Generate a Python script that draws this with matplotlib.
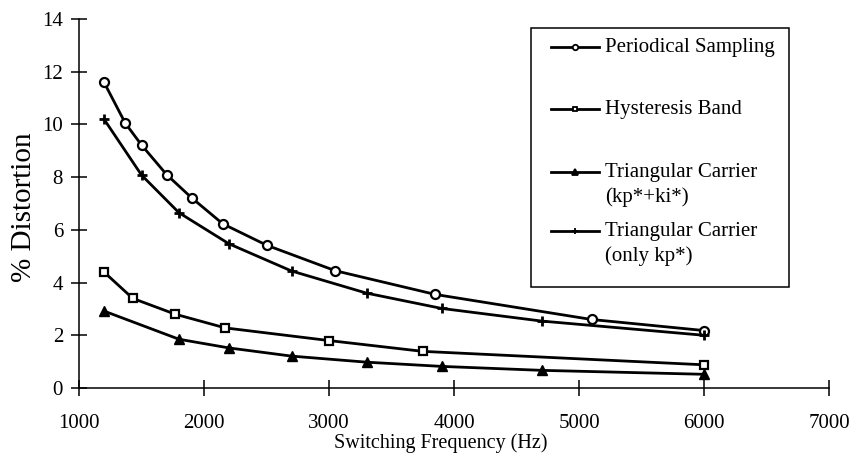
import matplotlib
matplotlib.use("Agg")
import matplotlib.pyplot as plt
from matplotlib.lines import Line2D
from matplotlib.patches import Rectangle

plt.rcParams['font.family'] = ['Liberation Serif', 'DejaVu Serif']

# values
freq_ps = [1200, 1370, 1500, 1700, 1900, 2150, 2500, 3050, 3850, 5100, 6000]
dist_ps = [11.6, 10.05, 9.22, 8.1, 7.22, 6.23, 5.42, 4.45, 3.55, 2.6, 2.18]

freq_hb = [1200, 1430, 1770, 2170, 3000, 3750, 6000]
dist_hb = [4.4, 3.4, 2.8, 2.28, 1.8, 1.39, 0.88]

freq_tc = [1200, 1800, 2200, 2700, 3300, 3900, 4700, 6000]
dist_tc = [2.92, 1.85, 1.52, 1.21, 0.98, 0.82, 0.67, 0.52]

freq_kp = [1200, 1500, 1800, 2200, 2700, 3300, 3900, 4700, 6000]
dist_kp = [10.2, 8.08, 6.65, 5.47, 4.44, 3.6, 3.02, 2.54, 2.0]

labels = ["Periodical Sampling", "Hysteresis Band",
          "Triangular Carrier\n(kp*+ki*)", "Triangular Carrier\n(only kp*)"]
xticks = [1000, 2000, 3000, 4000, 5000, 6000, 7000]
yticks = [0, 2, 4, 6, 8, 10, 12, 14]

styles = [
    dict(marker='o', ms=6.5, mfc='white', mew=1.6),
    dict(marker='s', ms=6, mfc='white', mew=1.6),
    dict(marker='^', ms=7, mfc='black', mew=1),
    dict(marker='+', ms=7, mew=2),
]
series = [(freq_ps, dist_ps), (freq_hb, dist_hb), (freq_tc, dist_tc), (freq_kp, dist_kp)]

fig = plt.figure(figsize=(8.52, 4.58), dpi=100)
ax = fig.add_axes([79/852, 70/458, 750/852, 369/458])

for (x, y), st in zip(series, styles):
    ax.plot(x, y, color='black', lw=2, mec='black', clip_on=False, **st)

ax.set_xlim(1000, 7000)
ax.set_ylim(0, 14)
ax.set_xticks(xticks)
ax.set_yticks(yticks)
ax.spines['top'].set_visible(False)
ax.spines['right'].set_visible(False)
for s in ('left', 'bottom'):
    ax.spines[s].set_linewidth(1.1)
ax.tick_params(direction='inout', length=11, width=1.1, labelsize=15)
ax.tick_params(axis='x', pad=13)
ax.tick_params(axis='y', pad=6)

ax.set_xlabel("Switching Frequency (Hz)", fontsize=14.5)
ax.xaxis.set_label_coords(0.482, -0.122)
ax.set_ylabel("% Distortion", fontsize=21)
ax.yaxis.set_label_coords(-0.056, 0.49)

# legend box, drawn by hand so the handle sits on the first text line
W, H = 852, 458
fig.add_artist(Rectangle((531/W, 1 - 287/H), (789-531)/W, (287-28)/H,
                         transform=fig.transFigure, fill=False, lw=1.1, ec='black'))
rows = [46.7, 109, 172, 231]
for yy, lab, st in zip(rows, labels, styles):
    small = dict(st)
    small['ms'] = st['ms'] * 0.6
    small['mew'] = 1.3
    fig.add_artist(Line2D([551/W, 575/W, 599/W], [1 - yy/H] * 3, transform=fig.transFigure,
                          color='black', lw=2, mec='black', markevery=[1], **small))
    fig.text(605/W, 1 - (yy - 9)/H, lab, fontsize=15, va='top', ha='left',
             linespacing=1.35)

fig.savefig("out.png", dpi=100)
